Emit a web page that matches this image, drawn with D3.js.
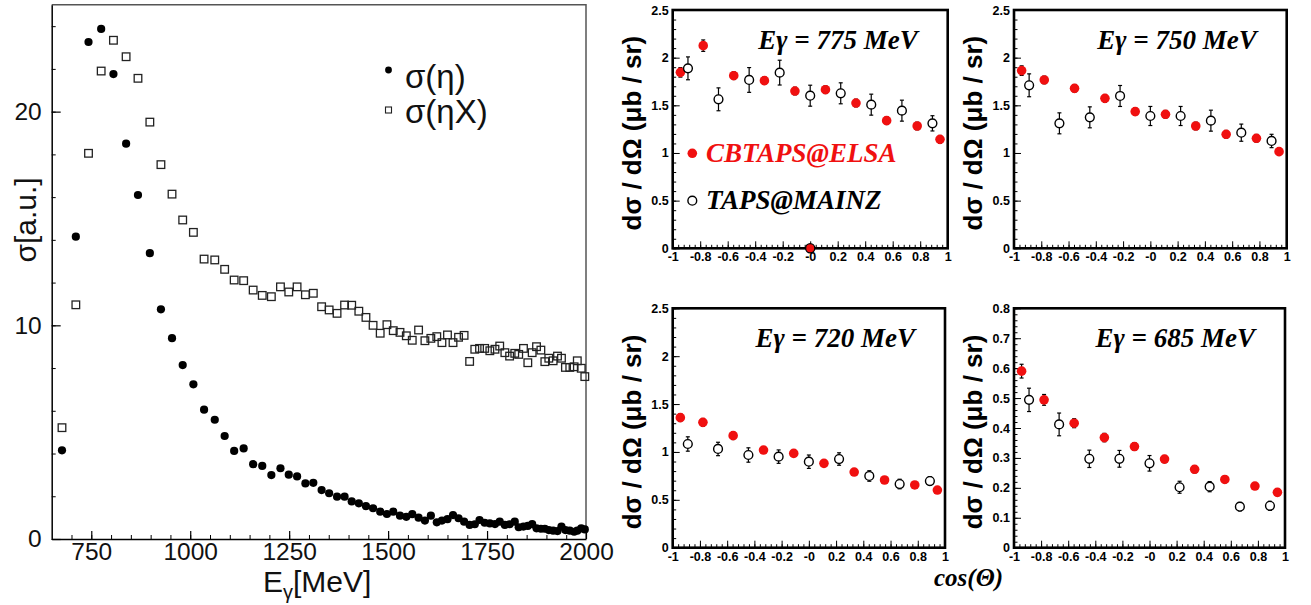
<!DOCTYPE html>
<html>
<head>
<meta charset="utf-8">
<script src="https://cdn.jsdelivr.net/npm/d3@7"></script>
<style>
  body { margin: 0; background: #fff; }
  svg { display: block; }
</style>
</head>
<body>
<script>
// ---- left panel: total cross sections vs photon energy ----
const energies = [676, 711, 743, 775, 806, 838, 868, 898, 926, 954, 981, 1008, 1035, 1062, 1087, 1111, 1135, 1159, 1182, 1205,
  1228, 1249, 1270, 1291, 1311, 1332, 1351, 1371, 1390, 1408, 1426, 1444, 1462, 1480, 1497, 1513, 1530, 1546, 1561, 1577,
  1593, 1608, 1623, 1636, 1650, 1664, 1678, 1692, 1706, 1719, 1731, 1744, 1757, 1770, 1782, 1795, 1807, 1820, 1830, 1842,
  1853, 1864, 1875, 1886, 1896, 1906, 1917, 1928, 1938, 1948, 1959, 1970, 1978, 1988, 1997];
const sigmaEta = [4.15, 14.15, 23.26, 23.87, 21.76, 18.5, 16.1, 13.38, 10.75, 9.4, 8.14, 7.24, 6.05, 5.58, 4.82, 4.12, 4.24, 3.5, 3.42, 2.99,
  3.31, 3.01, 2.93, 2.6, 2.63, 2.29, 2.14, 1.98, 1.98, 1.76, 1.67, 1.54, 1.44, 1.28, 1.17, 1.28, 1.09, 1.04, 1.16, 1.0,
  0.86, 1.09, 0.78, 0.86, 0.93, 1.12, 0.97, 0.81, 0.66, 0.69, 0.89, 0.76, 0.73, 0.7, 0.81, 0.66, 0.69, 0.81, 0.55, 0.58,
  0.61, 0.70, 0.5, 0.48, 0.48, 0.42, 0.39, 0.37, 0.58, 0.42, 0.39, 0.34, 0.39, 0.5, 0.45];
const sigmaEtaX = [5.21, 10.96, 18.05, 21.9, 23.34, 22.57, 21.56, 19.51, 17.52, 16.14, 14.93, 14.35, 13.1, 13.06, 12.62, 12.12, 12.09, 11.65, 11.4, 11.34,
  11.8, 11.56, 11.8, 11.43, 11.5, 10.87, 10.72, 10.56, 10.95, 10.94, 10.66, 10.37, 10.0, 9.63, 10.03, 9.75, 9.67, 9.51, 9.3, 9.78,
  9.28, 9.39, 9.47, 9.19, 9.55, 9.19, 9.44, 9.53, 8.31, 8.88, 8.92, 8.92, 8.81, 8.88, 9.03, 8.72, 8.56, 8.69, 8.64, 8.92,
  8.25, 8.72, 9.0, 8.84, 8.3, 8.46, 8.34, 8.56, 8.46, 8.03, 8.03, 8.06, 8.34, 7.99, 7.6];
const energyTicks = [750, 1000, 1250, 1500, 1750, 2000];
const sigmaTicks = [0, 10, 20];
const legendLabels = ["σ(η)", "σ(ηX)"];

// ---- right panels: differential cross sections ----
const cosElsa = [-0.944, -0.778, -0.556, -0.333, -0.111, 0.111, 0.333, 0.556, 0.778, 0.944];
const cosMainz = [-0.889, -0.667, -0.444, -0.222, 0, 0.222, 0.444, 0.667, 0.889];

const elsa775 = [1.846, 2.126, 1.811, 1.759, 1.650, 1.664, 1.524, 1.339, 1.283, 1.143];
const elsa775Err = [0.05, 0.06, 0.04, 0.04, 0.04, 0.04, 0.04, 0.04, 0.04, 0.04];
const mainz775 = [1.888, 1.563, 1.766, 1.843, 1.601, 1.626, 1.507, 1.444, 1.311];
const mainz775Err = [0.12, 0.12, 0.13, 0.13, 0.11, 0.11, 0.11, 0.11, 0.08];

const elsa750 = [1.864, 1.766, 1.678, 1.573, 1.434, 1.406, 1.283, 1.196, 1.154, 1.014];
const elsa750Err = [0.05, 0.04, 0.04, 0.04, 0.04, 0.04, 0.04, 0.04, 0.04, 0.04];
const mainz750 = [1.710, 1.311, 1.374, 1.598, 1.388, 1.388, 1.339, 1.213, 1.126];
const mainz750Err = [0.12, 0.11, 0.11, 0.11, 0.10, 0.10, 0.11, 0.09, 0.07];

const elsa720 = [1.358, 1.309, 1.170, 1.020, 0.985, 0.881, 0.790, 0.707, 0.655, 0.602];
const elsa720Err = [0.04, 0.04, 0.04, 0.03, 0.03, 0.03, 0.03, 0.03, 0.03, 0.03];
const mainz720 = [1.083, 1.031, 0.968, 0.951, 0.898, 0.926, 0.749, 0.665, 0.696];
const mainz720Err = [0.075, 0.07, 0.075, 0.07, 0.07, 0.065, 0.055, 0.05, 0.045];

const elsa685 = [0.590, 0.494, 0.416, 0.368, 0.338, 0.296, 0.262, 0.228, 0.206, 0.185];
const elsa685Err = [0.023, 0.018, 0.015, 0.014, 0.013, 0.012, 0.012, 0.011, 0.011, 0.011];
const mainz685 = [0.494, 0.412, 0.297, 0.297, 0.282, 0.202, 0.204, 0.137, 0.140];
const mainz685Err = [0.039, 0.038, 0.029, 0.028, 0.026, 0.02, 0.017, 0.014, 0.015];

// stray point sitting on the axis of the 775 MeV panel
const strayCos = [0];
const strayVal = [0];

const cosTicks = [-1, -0.8, -0.6, -0.4, -0.2, 0, 0.2, 0.4, 0.6, 0.8, 1];
const cosTickLabels = ["-1", "-0.8", "-0.6", "-0.4", "-0.2", "-0", "0.2", "0.4", "0.6", "0.8", "1"];
const dsTicksA = [0, 0.5, 1, 1.5, 2, 2.5];
const dsTicksB = [0, 0.1, 0.2, 0.3, 0.4, 0.5, 0.6, 0.7, 0.8];
const panelTitles = ["775", "750", "720", "685"];
const expLabels = ["CBTAPS@ELSA", "TAPS@MAINZ"];

const RED = "#f01010";
const sans = "'Liberation Sans', Arial, Helvetica, sans-serif";
const serif = "'Liberation Serif', 'Times New Roman', serif";

const svg = d3.select("body").append("svg")
  .attr("width", 1311).attr("height", 605);
svg.append("rect").attr("width", 1311).attr("height", 605).attr("fill", "#fff");

// ================= left panel =================
const xE = d3.scaleLinear().domain([650, 2000]).range([51.7, 586]);
const yS = d3.scaleLinear().domain([0, 25]).range([539, 4.8]);

const left = svg.append("g");

// frame top / right (grey)
left.append("path")
  .attr("d", `M${xE(650)},${yS(25)}H${xE(2000)}V${yS(0)}`)
  .attr("fill", "none").attr("stroke", "#555").attr("stroke-width", 1.5);

// minor ticks
left.append("g").attr("transform", `translate(0,${yS(0)})`)
  .call(d3.axisBottom(xE).tickValues(d3.range(700, 2001, 50)).tickSize(-4).tickSizeOuter(0).tickFormat(""))
  .call(g => g.select(".domain").remove());
left.append("g").attr("transform", `translate(${xE(650)},0)`)
  .call(d3.axisLeft(yS).tickValues(d3.range(0, 25.01, 2)).tickSize(-4).tickSizeOuter(0).tickFormat(""))
  .call(g => g.select(".domain").remove());

// major axes
const axE = left.append("g").attr("transform", `translate(0,${yS(0)})`)
  .call(d3.axisBottom(xE).tickValues(energyTicks).tickSize(-8).tickSizeOuter(0).tickPadding(4).tickFormat(d3.format("d")));
const axS = left.append("g").attr("transform", `translate(${xE(650)},0)`)
  .call(d3.axisLeft(yS).tickValues(sigmaTicks).tickSize(-9).tickSizeOuter(0).tickPadding(10).tickFormat(d3.format("d")));
[axE, axS].forEach(a => {
  a.selectAll("line").attr("stroke", "#000").attr("stroke-width", 1.2);
  a.select(".domain").attr("stroke", "#000").attr("stroke-width", 1.5);
  a.selectAll("text").attr("font-family", sans).attr("font-size", 24.5).attr("fill", "#111");
});
left.selectAll("line").attr("stroke", "#000");

// sigma(etaX) squares
left.append("g").selectAll("rect")
  .data(energies.map((e, i) => [e, sigmaEtaX[i]]))
  .join("rect")
  .attr("x", d => xE(d[0]) - 3.8).attr("y", d => yS(d[1]) - 3.8)
  .attr("width", 7.6).attr("height", 7.6)
  .attr("fill", "none").attr("stroke", "#222").attr("stroke-width", 1.3);

// sigma(eta) dots
left.append("g").selectAll("circle")
  .data(energies.map((e, i) => [e, sigmaEta[i]]))
  .join("circle")
  .attr("cx", d => xE(d[0])).attr("cy", d => yS(d[1])).attr("r", 4.1)
  .attr("fill", "#000");

// legend
left.append("circle").attr("cx", 388.5).attr("cy", 70).attr("r", 3.4).attr("fill", "#000");
left.append("rect").attr("x", 385.5).attr("y", 107).attr("width", 6).attr("height", 6)
  .attr("fill", "none").attr("stroke", "#222").attr("stroke-width", 1.1);
left.selectAll("text.leg").data(legendLabels).join("text").attr("class", "leg")
  .attr("x", 405).attr("y", (d, i) => 88 + i * 35)
  .attr("font-family", sans).attr("font-size", 33).attr("fill", "#111")
  .text(d => d);

// axis titles
left.append("text")
  .attr("transform", "translate(36,220) rotate(-90)")
  .attr("text-anchor", "middle").attr("font-family", sans).attr("font-size", 30).attr("fill", "#111")
  .text("σ[a.u.]");
const et = left.append("text").attr("x", 263).attr("y", 592)
  .attr("font-family", sans).attr("font-size", 30).attr("fill", "#111");
et.append("tspan").text("E");
et.append("tspan").attr("font-size", 20).attr("dy", 7).text("γ");
et.append("tspan").attr("dy", -7).text("[MeV]");

// ================= right panels =================
const panels = [
  { x0: 672.7, x1: 947.7, y0: 10, y1: 248.3, ymax: 2.5, ticks: dsTicksA, minor: 0.1, title: panelTitles[0],
    elsa: elsa775, elsaErr: elsa775Err, mainz: mainz775, mainzErr: mainz775Err, legend: true, stray: true },
  { x0: 1014, x1: 1286.7, y0: 10, y1: 248.3, ymax: 2.5, ticks: dsTicksA, minor: 0.1, title: panelTitles[1],
    elsa: elsa750, elsaErr: elsa750Err, mainz: mainz750, mainzErr: mainz750Err },
  { x0: 672.7, x1: 945, y0: 308.3, y1: 547.7, ymax: 2.5, ticks: dsTicksA, minor: 0.1, title: panelTitles[2],
    elsa: elsa720, elsaErr: elsa720Err, mainz: mainz720, mainzErr: mainz720Err },
  { x0: 1014, x1: 1285, y0: 308.3, y1: 547.7, ymax: 0.8, ticks: dsTicksB, minor: 0.02, title: panelTitles[3],
    elsa: elsa685, elsaErr: elsa685Err, mainz: mainz685, mainzErr: mainz685Err }
];

panels.forEach(p => {
  const g = svg.append("g");
  const x = d3.scaleLinear().domain([-1, 1]).range([p.x0, p.x1]);
  const y = d3.scaleLinear().domain([0, p.ymax]).range([p.y1, p.y0]);

  // minor ticks
  g.append("g").attr("transform", `translate(0,${p.y1})`)
    .call(d3.axisBottom(x).tickValues(d3.range(-1, 1.001, 0.04)).tickSize(-3.5).tickSizeOuter(0).tickFormat(""))
    .call(a => a.select(".domain").remove());
  g.append("g").attr("transform", `translate(${p.x0},0)`)
    .call(d3.axisLeft(y).tickValues(d3.range(0, p.ymax + 1e-6, p.minor)).tickSize(-3.5).tickSizeOuter(0).tickFormat(""))
    .call(a => a.select(".domain").remove());

  // major ticks + labels
  const ax = g.append("g").attr("transform", `translate(0,${p.y1})`)
    .call(d3.axisBottom(x).tickValues(cosTicks).tickSize(-7).tickSizeOuter(0).tickPadding(4)
      .tickFormat((d, i) => cosTickLabels[i]));
  const ay = g.append("g").attr("transform", `translate(${p.x0},0)`)
    .call(d3.axisLeft(y).tickValues(p.ticks).tickSize(-7).tickSizeOuter(0).tickPadding(4)
      .tickFormat(d3.format("~g")));
  [ax, ay].forEach(a => {
    a.select(".domain").remove();
    a.selectAll("text").attr("font-family", sans).attr("font-weight", "bold").attr("font-size", 12.5).attr("fill", "#000");
  });
  g.selectAll("line").attr("stroke", "#000").attr("stroke-width", 1);

  // frame
  g.append("rect").attr("x", p.x0).attr("y", p.y0)
    .attr("width", p.x1 - p.x0).attr("height", p.y1 - p.y0)
    .attr("fill", "none").attr("stroke", "#000").attr("stroke-width", 2.6);

  // y title
  g.append("text")
    .attr("transform", `translate(${p.x0 - 32},${(p.y0 + p.y1) / 2 + 4}) rotate(-90)`)
    .attr("text-anchor", "middle").attr("font-family", sans).attr("font-weight", "bold")
    .attr("font-size", 26).attr("fill", "#000")
    .text("dσ / dΩ (μb / sr)");

  // panel title
  const t = g.append("text").attr("x", p.x1 - 30).attr("y", p.y0 + 38.5)
    .attr("text-anchor", "end").attr("font-family", serif).attr("font-weight", "bold")
    .attr("font-style", "italic").attr("font-size", 27).attr("fill", "#000");
  t.text(`Eγ = ${p.title} MeV`);

  const cap = 2;
  // error bars
  const eb = g.append("g").attr("stroke", "#000").attr("stroke-width", 1.2);
  p.elsa.forEach((v, i) => {
    const cx = x(cosElsa[i]);
    eb.append("line").attr("x1", cx).attr("x2", cx).attr("y1", y(v - p.elsaErr[i])).attr("y2", y(v + p.elsaErr[i]));
    eb.append("line").attr("x1", cx - cap).attr("x2", cx + cap).attr("y1", y(v + p.elsaErr[i])).attr("y2", y(v + p.elsaErr[i]));
    eb.append("line").attr("x1", cx - cap).attr("x2", cx + cap).attr("y1", y(v - p.elsaErr[i])).attr("y2", y(v - p.elsaErr[i]));
  });
  p.mainz.forEach((v, i) => {
    const cx = x(cosMainz[i]);
    eb.append("line").attr("x1", cx).attr("x2", cx).attr("y1", y(v - p.mainzErr[i])).attr("y2", y(v + p.mainzErr[i]));
    eb.append("line").attr("x1", cx - cap).attr("x2", cx + cap).attr("y1", y(v + p.mainzErr[i])).attr("y2", y(v + p.mainzErr[i]));
    eb.append("line").attr("x1", cx - cap).attr("x2", cx + cap).attr("y1", y(v - p.mainzErr[i])).attr("y2", y(v - p.mainzErr[i]));
  });

  g.append("g").selectAll("circle")
    .data(p.elsa.map((v, i) => [cosElsa[i], v]))
    .join("circle")
    .attr("cx", d => x(d[0])).attr("cy", d => y(d[1])).attr("r", 4.8)
    .attr("fill", RED);

  g.append("g").selectAll("circle")
    .data(p.mainz.map((v, i) => [cosMainz[i], v]))
    .join("circle")
    .attr("cx", d => x(d[0])).attr("cy", d => y(d[1])).attr("r", 4.4)
    .attr("fill", "#fff").attr("stroke", "#000").attr("stroke-width", 1.4);

  if (p.stray) {
    g.append("g").selectAll("circle")
      .data(strayCos.map((c, i) => [c, strayVal[i]]))
      .join("circle")
      .attr("cx", d => x(d[0])).attr("cy", d => y(d[1])).attr("r", 4.6)
      .attr("fill", RED).attr("stroke", "#000").attr("stroke-width", 1.3);
  }

  if (p.legend) {
    g.append("circle").attr("cx", 692.3).attr("cy", 153.3).attr("r", 4.8).attr("fill", RED);
    g.append("circle").attr("cx", 692.3).attr("cy", 200.7).attr("r", 4.4)
      .attr("fill", "#fff").attr("stroke", "#000").attr("stroke-width", 1.4);
    g.selectAll("text.exp").data(expLabels).join("text").attr("class", "exp")
      .attr("x", 706).attr("y", (d, i) => 161.7 + i * 47.6)
      .attr("font-family", serif).attr("font-weight", "bold").attr("font-style", "italic")
      .attr("font-size", 27).attr("fill", (d, i) => i === 0 ? RED : "#000")
      .text(d => d);
  }
});

// common x title
svg.append("text").attr("x", 934).attr("y", 586)
  .attr("font-family", serif).attr("font-weight", "bold").attr("font-style", "italic")
  .attr("font-size", 25).attr("fill", "#000")
  .text("cos(Θ)");
</script>
</body>
</html>
